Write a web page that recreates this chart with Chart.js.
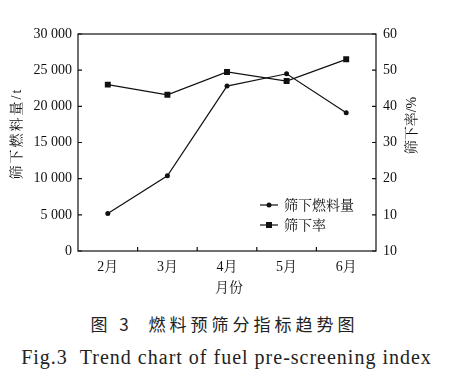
<!DOCTYPE html>
<html><head><meta charset="utf-8">
<script src="https://cdn.jsdelivr.net/npm/chart.js@4"></script>
<style>
html,body{margin:0;padding:0;background:#fff;width:449px;height:380px;overflow:hidden}
#wrap{position:absolute;left:0;top:0;width:449px;height:300px}
.cap{position:absolute;left:0;width:449px;text-align:center;color:#222;white-space:nowrap;line-height:1}
#cap1{top:315px;font-size:17px;font-family:'Noto Sans CJK SC';letter-spacing:4px;font-weight:400}
#cap2{top:347px;left:2px;font-size:20px;font-family:'Liberation Serif';letter-spacing:1px}
</style></head><body>
<div id="wrap"><canvas id="c" width="449" height="300"></canvas></div>
<div class="cap" id="cap1">图 3&nbsp;&nbsp;燃料预筛分指标趋势图</div>
<div class="cap" id="cap2">Fig.3&nbsp;&nbsp;Trend chart of fuel pre-screening index</div>
<script>
const months = ['2月','3月','4月','5月','6月'];
const fuelAmount = [5200, 10400, 22800, 24500, 19100];
const screenRate = [46.0, 43.2, 49.5, 47.0, 53.0];
const rightTickLabels = ['10','10','20','30','40','50','60'];
const seriesNames = ['筛下燃料量','筛下率'];
const leftTitle = '筛下燃料量/t';
const rightTitle = '筛下率/%';
const xTitle = '月份';

const SERIF = "'Liberation Serif','Noto Serif CJK SC','Noto Sans CJK SC'";
const INK = '#111';

function fmt(v){ return String(v).replace(/\B(?=(\d{3})+(?!\d))/g,' '); }

const decor = {
  id:'decor',
  afterDraw(chart){
    const {ctx, chartArea:a, scales} = chart;
    ctx.save();
    ctx.strokeStyle = INK; ctx.lineWidth = 1.2;
    ctx.strokeRect(a.left, a.top, a.right-a.left, a.bottom-a.top);
    const tl = 4;
    ctx.beginPath();
    scales.y.ticks.forEach(t=>{const y=scales.y.getPixelForValue(t.value); ctx.moveTo(a.left,y); ctx.lineTo(a.left+tl,y);});
    scales.y1.ticks.forEach(t=>{const y=scales.y1.getPixelForValue(t.value); ctx.moveTo(a.right,y); ctx.lineTo(a.right-tl,y);});
    for(let i=0;i<months.length-1;i++){
      const x=(scales.x.getPixelForValue(i)+scales.x.getPixelForValue(i+1))/2;
      ctx.moveTo(x,a.bottom); ctx.lineTo(x,a.bottom-tl);
    }
    ctx.stroke();
    // axis titles
    ctx.fillStyle = INK;
    ctx.textAlign='center'; ctx.textBaseline='middle';
    ctx.font = '14px '+SERIF;
    ctx.save(); ctx.translate(17, (a.top+a.bottom)/2 - 9); ctx.rotate(-Math.PI/2);
    ctx.letterSpacing='2px'; ctx.fillText(leftTitle,0,0); ctx.restore();
    ctx.save(); ctx.translate(412, (a.top+a.bottom)/2 - 17); ctx.rotate(-Math.PI/2);
    ctx.fillText(rightTitle,0,0); ctx.restore();
    ctx.fillText(xTitle, (a.left+a.right)/2 + 2, 288);
    // legend
    const rows=[{y:205, ds:chart.data.datasets[0]},{y:225, ds:chart.data.datasets[1]}];
    ctx.textAlign='left';
    rows.forEach(r=>{
      ctx.beginPath(); ctx.moveTo(260,r.y); ctx.lineTo(278,r.y); ctx.lineWidth=1.2; ctx.stroke();
      if(r.ds.pointStyle==='rect'){ ctx.fillRect(269-3,r.y-3,6,6); }
      else { ctx.beginPath(); ctx.arc(269,r.y,2.5,0,Math.PI*2); ctx.fill(); }
      ctx.fillText(r.ds.label, 284, r.y+1);
    });
    ctx.restore();
  }
};

new Chart(document.getElementById('c'), {
  type:'line',
  data:{
    labels: months,
    datasets:[
      {label:seriesNames[0], data:fuelAmount, yAxisID:'y', borderColor:INK, backgroundColor:INK,
       borderWidth:1.2, pointStyle:'circle', pointRadius:2.5, pointBackgroundColor:INK, pointBorderWidth:0, tension:0},
      {label:seriesNames[1], data:screenRate, yAxisID:'y1', borderColor:INK, backgroundColor:INK,
       borderWidth:1.2, pointStyle:'rect', pointRadius:4.2, pointBackgroundColor:INK, pointBorderWidth:0, tension:0}
    ]
  },
  options:{
    responsive:false, animation:false, devicePixelRatio:1,
    layout:{padding:{top:34,left:0,right:0,bottom:0}},
    plugins:{legend:{display:false}, tooltip:{enabled:false}},
    scales:{
      x:{offset:true, grid:{display:false, drawTicks:false}, border:{display:false},
         ticks:{color:INK, padding:8, font:{family:SERIF, size:14}},
         afterFit(s){ s.height = 49; }},
      y:{position:'left', min:0, max:30000, grid:{display:false, drawTicks:false}, border:{display:false},
         ticks:{stepSize:5000, color:INK, padding:6, font:{family:SERIF, size:14}, callback:v=>fmt(v)},
         afterFit(s){ s.width = 78; }},
      y1:{position:'right', min:0, max:60, grid:{display:false, drawTicks:false}, border:{display:false},
         ticks:{stepSize:10, color:INK, padding:7, font:{family:SERIF, size:14}, callback:(v,i)=>rightTickLabels[i]},
         afterFit(s){ s.width = 73; }}
    }
  },
  plugins:[decor]
});
</script>
</body></html>
